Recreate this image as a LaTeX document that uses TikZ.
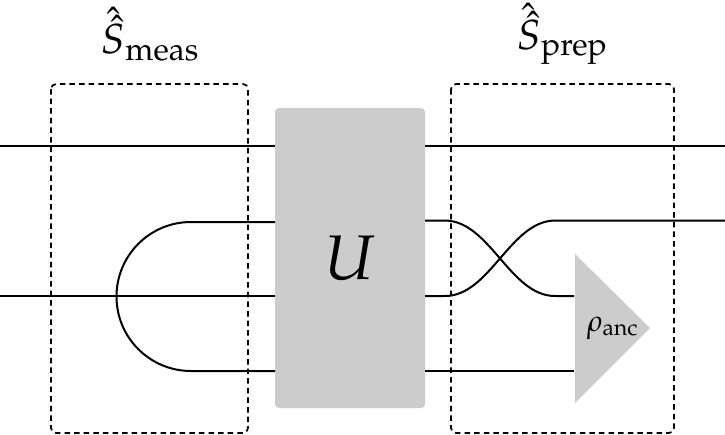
\documentclass[tikz,border=0pt]{standalone}
\usepackage{mathpazo}
\usetikzlibrary{shapes.geometric}
\tikzset{
  x=1pt,y=-1pt,
  wire/.style={line width=2pt,black,line cap=butt},
  dashbox/.style={draw=black,line width=1.7pt,dash pattern=on 5.5pt off 4.1pt,rounded corners=5pt,fill=none},
  gatebox/.style={fill=black!20,rounded corners=4pt},
  lab/.style={inner sep=0pt,anchor=center,text=black}
}
\newcommand{\bigtxt}{\fontsize{42}{50}\selectfont}
\newcommand{\smalltxt}{\fontsize{30}{36}\selectfont}
\begin{document}
\begin{tikzpicture}
\useasboundingbox (0,0) rectangle (725,434);
% gates
\fill[gatebox] (275,108) rectangle (425,408);
\coordinate (Uc) at (350,258);
\node[lab] (ulabel) at (Uc) {\fontsize{63}{74}\selectfont $U$};
\coordinate (Tt) at (575,254);
\coordinate (Tb) at (575,403);
\coordinate (Ta) at (650,328);
\fill[black!20] (Tt) -- (Ta) -- (Tb) -- cycle;
\node[lab] (rho) at (612.5,328) {\smalltxt $\rho_{\mathrm{anc}}$};
% free wire ends
\coordinate (L1) at (0,146);   \coordinate (UL1) at (275,146);
\coordinate (UR1) at (425,146);\coordinate (R1) at (725,146);
\coordinate (L2) at (0,296);   \coordinate (UL2) at (275,296);
\coordinate (UL3) at (275,222);\coordinate (CupT) at (191,222);
\coordinate (UL4) at (275,371);\coordinate (CupB) at (191,371);
\coordinate (UR2) at (425,220.5);\coordinate (UR3) at (425,296);
\coordinate (UR4) at (425,371);
\coordinate (R2) at (725,220.5);
\coordinate (T1) at (574,296);\coordinate (T2) at (574,371);
% wires
\draw[wire] (L1) -- (UL1);
\draw[wire] (UR1) -- (R1);
\draw[wire] (L2) -- (UL2);
\draw[wire] (UL3) -- (CupT) arc[start angle=-90,delta angle=-180,radius=74.5] -- (UL4);
\draw[wire] (UR4) -- (T2);
\draw[wire] (UR2) -- (445,220.5) .. controls (490,221) and (510,296) .. (555,296) -- (T1);
\draw[wire] (UR3) -- (445,296) .. controls (490,296) and (510,221) .. (555,220.5) -- (R2);
% dashed boxes
\draw[dashbox] (51,84) rectangle (248,433);
\draw[dashbox] (451,84) rectangle (674,433);
% labels
\node[lab] (smeas) at (150,34) {\bigtxt $\hat{\hat{S}}_{\mathrm{meas}}$};
\node[lab] (sprep) at (562,34) {\bigtxt $\hat{\hat{S}}_{\mathrm{prep}}$};
\end{tikzpicture}
\end{document}
